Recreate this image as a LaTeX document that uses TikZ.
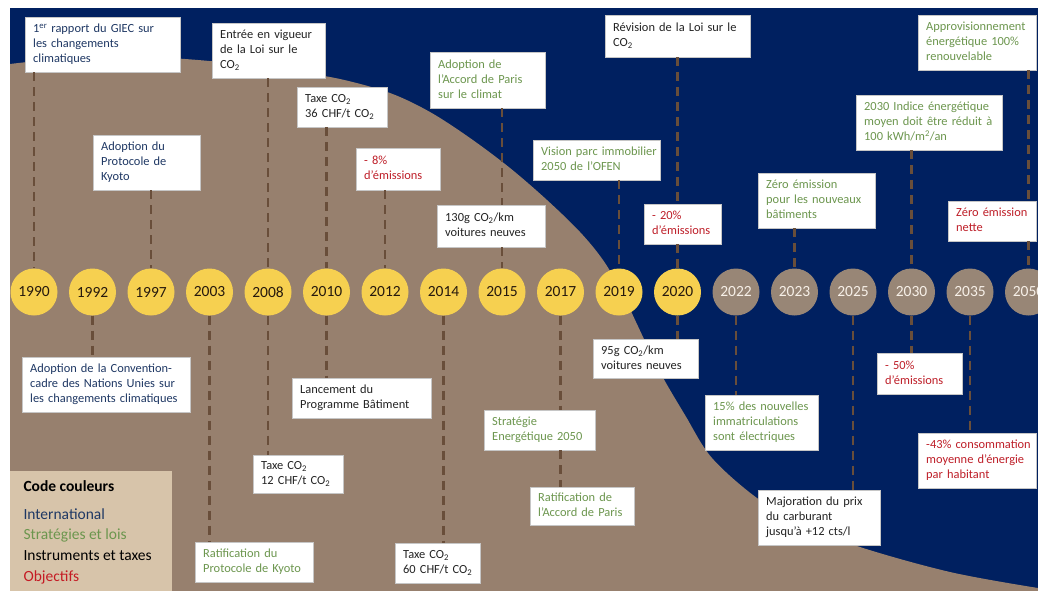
\documentclass[tikz,border=0pt]{standalone}
\usepackage{fontspec}
\setmainfont{Carlito}
\definecolor{navy}{RGB}{0,32,96}
\definecolor{brownbg}{RGB}{151,128,110}
\definecolor{legbg}{RGB}{215,196,170}
\definecolor{yellowc}{RGB}{246,208,80}
\definecolor{grayc}{RGB}{152,134,118}
\definecolor{dashc}{RGB}{105,78,58}
\definecolor{intlc}{RGB}{31,56,100}
\definecolor{greenc}{RGB}{108,150,78}
\definecolor{redc}{RGB}{190,30,40}
\definecolor{blackc}{RGB}{35,35,35}
\newcommand{\cotwo}{CO\textsubscript{2}}
\newcommand{\bl}[1]{\begin{tabular}{@{}l@{}}#1\end{tabular}}
\hfuzz=200pt
\begin{document}
\begin{tikzpicture}[x=1pt,y=-1pt,
  box/.style={anchor=north west, draw=gray!45, line width=0.4pt, fill=white,
    inner xsep=8pt, inner ysep=3pt, align=left,
    font=\fontsize{12.4}{15}\selectfont},
  intl/.style={text=intlc}, strat/.style={text=greenc},
  instr/.style={text=blackc}, obj/.style={text=redc},
  yc/.style={circle, fill=yellowc, minimum size=47pt, inner sep=0pt,
    text=black!80!brown, font=\fontsize{15.5}{16}\selectfont},
  gc/.style={circle, fill=grayc, minimum size=47pt, inner sep=0pt,
    text=white!88!brown, font=\fontsize{15.5}{16}\selectfont},
  dline/.style={draw=dashc, line width=2.5pt, dash pattern=on 9pt off 6pt},
  legtext/.style={anchor=west, font=\fontsize{15.5}{18}\selectfont}]
\useasboundingbox (0,0) rectangle (1038,590);
\begin{scope}
\clip (10,8) rectangle (1038,590);
\fill[navy] (10,8) rectangle (1038,590);
\fill[brownbg] plot[smooth, tension=0.55] coordinates {(10,64) (80,57) (150,57) (220,62) (290,71) (340,79) (390,93) (430,112) (470,138) (510,168) (547,200) (580,232) (603,260) (622,292) (636,322) (660,372) (685,415) (712,458) (757,498) (800,522) (857,546) (950,572) (1038,588)} -- (1038,600) -- (10,600) -- cycle;

% year circles
\foreach \yr/\i in {1990/0,1992/1,1997/2,2003/3,2008/4,2010/5,2012/6,2014/7,2015/8,2017/9,2019/10,2020/11}
  \node[yc] (c\yr) at ({34+58.5*\i},292) {\yr};
\foreach \yr/\i in {2022/12,2023/13,2025/14,2030/15,2035/16,2050/17}
  \node[gc] (c\yr) at ({34+58.5*\i},292) {\yr};

% boxes above the timeline
\node[box, intl, text width=139pt, minimum height=55pt] (giec) at (25,17) {\bl{1\textsuperscript{er} rapport du GIEC sur\\les changements\\climatiques}};
\node[box, intl, text width=91pt, minimum height=55pt] (kyoto) at (93,135) {\bl{Adoption du\\Protocole de\\Kyoto}};
\node[box, instr, text width=97pt, minimum height=55pt] (entree) at (212,23) {\bl{Entrée en vigueur\\de la Loi sur le\\\cotwo}};
\node[box, instr, text width=74pt, minimum height=40pt] (taxe36) at (297,87) {\bl{Taxe \cotwo\\36 CHF/t \cotwo}};
\node[box, obj, text width=68pt, minimum height=42pt] (m8) at (356,148) {\bl{- 8\%\\d’émissions}};
\node[box, strat, text width=99pt, minimum height=56pt] (accord) at (430,52) {\bl{Adoption de\\l’Accord de Paris\\sur le climat}};
\node[box, instr, text width=92pt, minimum height=42pt] (g130) at (437,205) {\bl{130g \cotwo/km\\voitures neuves}};
\node[box, strat, text width=111pt, minimum height=40pt] (vision) at (533,140) {\bl{Vision parc immobilier\\2050 de l’OFEN}};
\node[box, instr, text width=129pt, minimum height=42pt] (revision) at (605,15) {\bl{Révision de la Loi sur le\\\cotwo}};
\node[box, obj, text width=61pt, minimum height=40pt] (m20) at (644,204) {\bl{- 20\%\\d’émissions}};
\node[box, strat, text width=101pt, minimum height=55pt] (zero23) at (758,173) {\bl{Zéro émission\\pour les nouveaux\\bâtiments}};
\node[box, strat, text width=130pt, minimum height=55pt] (indice) at (856,95) {\bl{2030 Indice énergétique\\moyen doit être réduit à\\100 kWh/m\textsuperscript{2}/an}};
\node[box, strat, text width=102pt, minimum height=55pt] (approv) at (918,15) {\bl{Approvisionnement\\énergétique 100\%\\renouvelable}};
\node[box, obj, text width=72pt, minimum height=40pt] (zeronet) at (948,201) {\bl{Zéro émission\\nette}};

% boxes below the timeline
\node[box, intl, text width=152pt, minimum height=55pt] (conv) at (22,357) {\bl{Adoption de la Convention-\\cadre des Nations Unies sur\\les changements climatiques}};
\node[box, strat, text width=102pt, minimum height=40pt] (ratk) at (195,542) {\bl{Ratification du\\Protocole de Kyoto}};
\node[box, instr, text width=74pt, minimum height=38pt] (taxe12) at (253,455) {\bl{Taxe \cotwo\\12 CHF/t \cotwo}};
\node[box, instr, text width=123pt, minimum height=40pt] (lanc) at (292,378) {\bl{Lancement du\\Programme Bâtiment}};
\node[box, instr, text width=69pt, minimum height=40pt] (taxe60) at (395,543) {\bl{Taxe \cotwo\\60 CHF/t \cotwo}};
\node[box, strat, text width=95pt, minimum height=40pt] (strat) at (484,410) {\bl{Stratégie\\Energétique 2050}};
\node[box, strat, text width=88pt, minimum height=38pt] (ratp) at (530,487) {\bl{Ratification de\\l’Accord de Paris}};
\node[box, instr, text width=89pt, minimum height=39pt] (g95) at (593,339) {\bl{95g \cotwo/km\\voitures neuves}};
\node[box, strat, text width=97pt, minimum height=55pt] (p15) at (705,395) {\bl{15\% des nouvelles\\immatriculations\\sont électriques}};
\node[box, instr, text width=106pt, minimum height=55pt] (major) at (758,490) {\bl{Majoration du prix\\du carburant\\jusqu’à +12 cts/l}};
\node[box, obj, text width=69pt, minimum height=41pt] (m50) at (877,353) {\bl{- 50\%\\d’émissions}};
\node[box, obj, text width=102pt, minimum height=55pt] (m43) at (918,433) {\bl{-43\% consommation\\moyenne d’énergie\\par habitant}};

% dashed connectors above
\draw[dline] (giec.south -| c1990) -- (c1990.north);
\draw[dline] (kyoto.south -| c1997) -- (c1997.north);
\draw[dline] (entree.south -| c2008) -- (c2008.north);
\draw[dline] (taxe36.south -| c2010) -- (c2010.north);
\draw[dline] (m8.south -| c2012) -- (c2012.north);
\draw[dline] (accord.south -| c2015) -- (g130.north -| c2015);
\draw[dline] (g130.south -| c2015) -- (c2015.north);
\draw[dline] (vision.south -| c2019) -- (c2019.north);
\draw[dline] (revision.south -| c2020) -- (m20.north -| c2020);
\draw[dline] (m20.south -| c2020) -- (c2020.north);
\draw[dline] (zero23.south -| c2023) -- (c2023.north);
\draw[dline] (indice.south -| c2030) -- (c2030.north);
\draw[dline] (approv.south -| c2050) -- (zeronet.north -| c2050);
\draw[dline] (zeronet.south -| c2050) -- (c2050.north);

% dashed connectors below
\draw[dline] (c1992.south) -- (conv.north -| c1992);
\draw[dline] (c2003.south) -- (ratk.north -| c2003);
\draw[dline] (c2008.south) -- (taxe12.north -| c2008);
\draw[dline] (c2010.south) -- (lanc.north -| c2010);
\draw[dline] (c2014.south) -- (taxe60.north -| c2014);
\draw[dline] (c2017.south) -- (strat.north -| c2017);
\draw[dline] (strat.south -| c2017) -- (ratp.north -| c2017);
\draw[dline] (c2020.south) -- (g95.north -| c2020);
\draw[dline] (c2022.south) -- (p15.north -| c2022);
\draw[dline] (c2025.south) -- (major.north -| c2025);
\draw[dline] (c2030.south) -- (m50.north -| c2030);
\draw[dline] (c2035.south) -- (m43.north -| c2035);

% legend
\node[anchor=north west, fill=legbg, minimum width=162pt, minimum height=125pt, inner sep=0pt] (leg) at (10,471) {};
\node[legtext, text=black, font=\fontsize{15.5}{18}\selectfont\bfseries] (lg0) at (20,486) {Code couleurs};
\node[legtext, text=intlc] (lg1) at (20,514) {International};
\node[legtext, text=greenc] (lg2) at (20,535) {Stratégies et lois};
\node[legtext, text=black] (lg3) at (20,556) {Instruments et taxes};
\node[legtext, text=redc!90!red] (lg4) at (20,577) {Objectifs};
\end{scope}
\end{tikzpicture}
\end{document}
